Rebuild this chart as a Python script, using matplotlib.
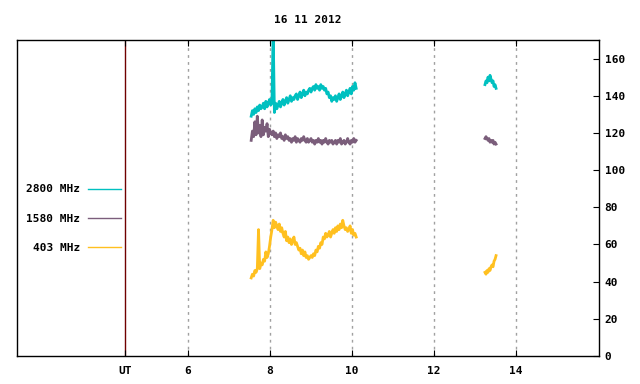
import matplotlib
matplotlib.use("Agg")
import matplotlib.pyplot as plt
import numpy as np

plt.rcParams["font.family"] = "DejaVu Sans Mono"
plt.rcParams["font.weight"] = "bold"

CYAN = "#00C0C0"; PURPLE = "#7B5E7B"; YELLOW = "#FFC020"
GRIDC = "#A0A0A0"; UTC = "#700000"

title = "16 11 2012"
labels = ["2800 MHz", "1580 MHz", "403 MHz"]

# morning block (UT hours), afternoon block
t1_start, t1_end = 7.54, 10.10
t2_start, t2_end = 13.24, 13.51

cyan1 = [129, 132, 130, 133, 131, 134, 132, 135, 133, 134,
         136, 133, 137, 134, 136, 138, 135, 136, 176, 131,
         136, 133, 135, 137, 134, 136, 138, 135, 137, 139,
         136, 138, 140, 137, 139, 138, 140, 141, 138, 140,
         142, 139, 141, 143, 140, 142, 141, 143, 144, 142,
         144, 145, 143, 146, 144, 145, 143, 146, 144, 145,
         143, 144, 141, 142, 139, 140, 137, 139, 138, 140,
         137, 139, 141, 138, 140, 142, 139, 141, 143, 140,
         142, 144, 141, 145, 143, 147, 144]
purple1 = [116, 121, 118, 126, 119, 129, 120, 124, 118, 127,
           119, 123, 121, 125, 118, 122, 120, 119, 121, 118,
           120, 117, 119, 118, 120, 117, 118, 116, 119, 117,
           118, 116, 117, 115, 117, 116, 118, 115, 117, 116,
           115, 117, 116, 118, 116, 115, 117, 115, 116, 117,
           115, 116, 114, 116, 115, 117, 115, 116, 114, 116,
           115, 117, 115, 114, 116, 115, 116, 114, 115, 116,
           114, 116, 115, 117, 114, 115, 116, 114, 115, 117,
           115, 114, 116, 115, 117, 115, 116]
yellow1 = [42, 44, 43, 46, 45, 47, 68, 47, 50, 49,
           52, 51, 56, 53, 55, 59, 64, 68, 73, 69,
           72, 70, 68, 71, 67, 69, 66, 64, 67, 62,
           64, 61, 63, 60, 62, 64, 60, 61, 59, 57,
           58, 55, 57, 54, 56, 53, 54, 52, 53, 54,
           53, 55, 54, 57, 56, 59, 58, 61, 60, 64,
           63, 66, 64, 65, 67, 64, 66, 68, 66, 69,
           67, 70, 68, 71, 69, 73, 70, 68, 69, 67,
           68, 70, 66, 68, 65, 66, 64]

cyan2 = [146, 148, 147, 150, 148, 151, 149, 147, 148, 145, 146, 144]
purple2 = [117, 118, 117, 116, 117, 115, 116, 115, 116, 114, 115, 114]
yellow2 = [45, 44, 46, 45, 47, 46, 48, 49, 48, 51, 52, 54]

xticks = [6, 8, 10, 12, 14]
ut_pos = 4.46
yticks = [0, 20, 40, 60, 80, 100, 120, 140, 160]

fig = plt.figure(figsize=(6.4, 3.84), dpi=100)
ax = fig.add_axes([17/640, 28/384, 582/640, 316/384])

t1 = np.linspace(t1_start, t1_end, len(cyan1))
t2 = np.linspace(t2_start, t2_end, len(cyan2))
for (a, b, c, lab) in [(cyan1, cyan2, CYAN, labels[0]),
                       (purple1, purple2, PURPLE, labels[1]),
                       (yellow1, yellow2, YELLOW, labels[2])]:
    ax.plot(t1, a, color=c, lw=2.0, label=lab)
    ax.plot(t2, b, color=c, lw=2.0)

for gx in xticks:
    ax.axvline(gx, color=GRIDC, lw=1, ls=(0, (2, 3)), zorder=0)
ax.axvline(ut_pos, color=UTC, lw=1, zorder=0)

ax.set_xlim(1.83, 16.02)
ax.set_ylim(0, 170)
ax.set_xticks([ut_pos] + xticks, ["UT"] + [str(v) for v in xticks])
ax.tick_params(axis="x", direction="in", top=True, length=4, pad=7, labelsize=8)
ax.yaxis.tick_right()
ax.set_yticks(yticks)
ax.tick_params(axis="y", direction="in", left=False, right=True, length=4, pad=4, labelsize=8)
for s in ax.spines.values():
    s.set_linewidth(1)

ax.set_title(title, fontsize=8, pad=12, fontweight="bold")

leg = ax.legend(loc="center right", bbox_to_anchor=(0.179, 0.434), frameon=False,
                markerfirst=False, handlelength=3.0, handletextpad=0.7,
                labelspacing=1.75, borderpad=0, borderaxespad=0, fontsize=8)
for t in leg.get_texts():
    t.set_ha("right")
for h in leg.get_lines():
    h.set_linewidth(1)

fig.savefig("out.png", dpi=100, facecolor="white")
